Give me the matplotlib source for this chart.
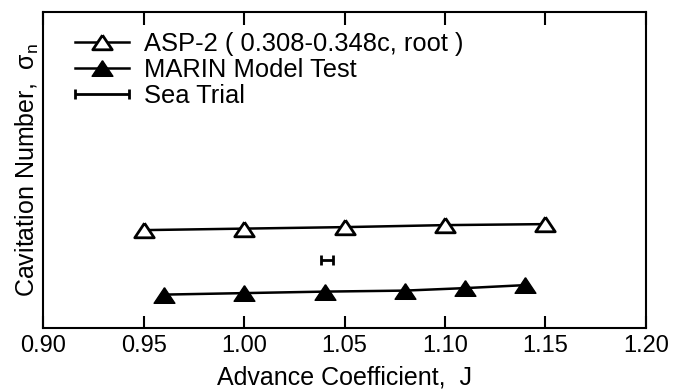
import matplotlib
matplotlib.use("Agg")
import matplotlib.pyplot as plt
from matplotlib.legend_handler import HandlerErrorbar

plt.rcParams['font.family'] = ['Liberation Sans', 'DejaVu Sans']

# ASP-2 (0.308-0.348c, root)
asp_J = [0.95, 1.00, 1.05, 1.10, 1.15]
asp_sigma = [0.98, 0.995, 1.01, 1.03, 1.04]

# MARIN Model Test
marin_J = [0.96, 1.00, 1.04, 1.08, 1.11, 1.14]
marin_sigma = [0.335, 0.35, 0.365, 0.375, 0.40, 0.43]

# Sea Trial
sea_J = [1.041]
sea_Jerr = [0.003]
sea_sigma = [0.68]

xticks = [0.90, 0.95, 1.00, 1.05, 1.10, 1.15, 1.20]
xticklabels = ["0.90", "0.95", "1.00", "1.05", "1.10", "1.15", "1.20"]

fig = plt.figure(figsize=(6.79, 3.92), dpi=100)
ax = fig.add_axes([0.064, 0.163, 0.887, 0.806])

tri = [(0, 0.75), (-1, -0.75), (1, -0.75), (0, 0.75)]

ax.plot(asp_J, asp_sigma, color='black', lw=1.8, marker=tri, markersize=14,
        markerfacecolor='white', markeredgecolor='black', markeredgewidth=2,
        label='ASP-2 ( 0.308-0.348c, root )')
ax.plot(marin_J, marin_sigma, color='black', lw=1.8, marker=tri, markersize=15,
        markerfacecolor='black', markeredgecolor='black', markeredgewidth=1,
        label='MARIN Model Test')
eb = ax.errorbar(sea_J, sea_sigma, xerr=sea_Jerr, fmt='none', ecolor='black',
                 elinewidth=2, capsize=3.6, capthick=2, label='Sea Trial')

ax.set_xlim(0.90, 1.20)
ax.set_ylim(0, 3.16)
ax.set_xticks(xticks)
ax.set_xticklabels(xticklabels)
ax.set_yticks([])
ax.tick_params(axis='x', direction='in', top=True, bottom=True, length=9,
               width=1.5, labelsize=17, pad=5)
for s in ax.spines.values():
    s.set_linewidth(1.5)

ax.set_xlabel('Advance Coefficient,  J', fontsize=18, labelpad=6)
ax.set_ylabel('Cavitation Number,  σ$_\\mathregular{n}$', fontsize=18, labelpad=2)

leg = ax.legend(loc='upper left', frameon=False, fontsize=18.4, handlelength=2.1,
                handletextpad=0.6, labelspacing=0.08, borderaxespad=0.0,
                bbox_to_anchor=(0.036, 0.97), numpoints=1,
                handler_map={type(eb): HandlerErrorbar(xerr_size=1.05)})

fig.savefig('out.png', dpi=100)
